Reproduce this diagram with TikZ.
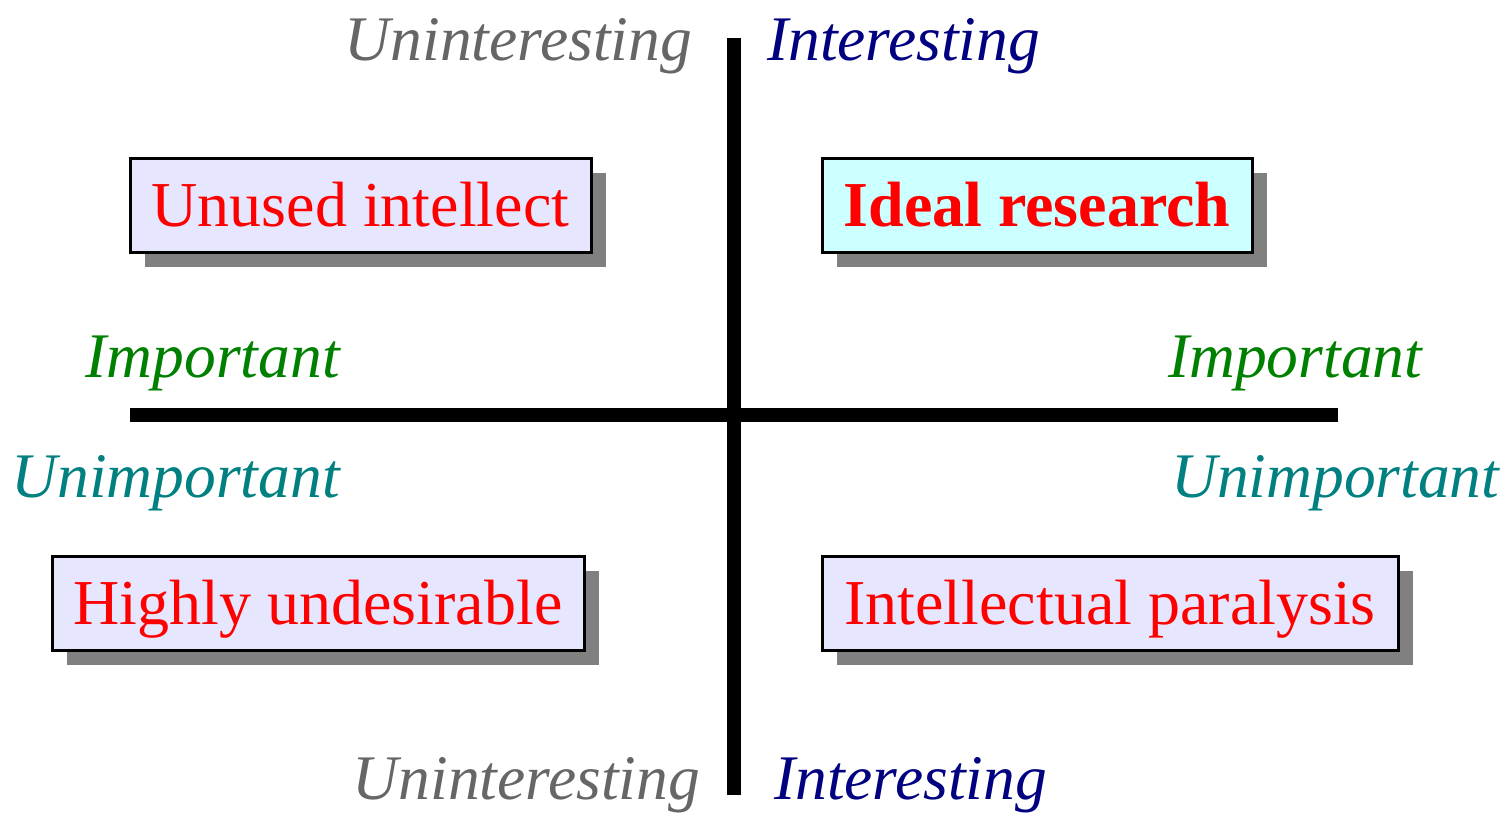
\documentclass[tikz,border=0pt]{standalone}
\usepackage{fontspec}
\setmainfont{Liberation Serif}
\usetikzlibrary{shadows}
\definecolor{labgray}{HTML}{666666}
\definecolor{labnavy}{HTML}{000080}
\definecolor{labgreen}{HTML}{008000}
\definecolor{labteal}{HTML}{008080}
\definecolor{boxlav}{HTML}{E6E6FF}
\definecolor{boxcyan}{HTML}{CCFFFF}
\definecolor{shadowgray}{HTML}{808080}
\tikzset{
  quadbox/.style={draw=black, line width=3pt, fill=boxlav, text=red, inner sep=0pt,
    minimum height=94pt, text height=42pt, text depth=0pt, font=\fontsize{64}{70}\selectfont,
    drop shadow={shadow xshift=15pt, shadow yshift=-15pt, fill=shadowgray, opacity=1}},
  axislabel/.style={inner sep=0pt, font=\fontsize{63.5}{70}\selectfont\itshape},
  axisline/.style={line width=14pt, black}
}
\begin{document}
\begin{tikzpicture}[x=1pt, y=-1pt]
\useasboundingbox (0,0) rectangle (1505,813);
% axes
\coordinate (vtop) at (734,38);
\coordinate (vbot) at (734,795);
\coordinate (hl) at (130,415);
\coordinate (hr) at (1338,415);
\draw[axisline] (vtop) -- (vbot);
\draw[axisline] (hl) -- (hr);
% boxes
\node[quadbox, minimum width=461pt] (unused) at (360.5,205.5) {Unused intellect};
\node[quadbox, minimum width=430pt, fill=boxcyan, font=\fontsize{64}{70}\selectfont\bfseries] (ideal) at (1037,205.5) {Ideal research};
\node[quadbox, minimum width=532pt] (highly) at (318,603) {Highly undesirable};
\node[quadbox, minimum width=576pt] (paralysis) at (1110,603) {Intellectual paralysis};
% labels
\node[axislabel, text=labgray, anchor=base east] (unintT) at (692,61) {Uninteresting};
\node[axislabel, text=labnavy, anchor=base west] (intT) at (767,61) {Interesting};
\node[axislabel, text=labgray, anchor=base east] (unintB) at (700,799) {Uninteresting};
\node[axislabel, text=labnavy, anchor=base west] (intB) at (774,799) {Interesting};
\node[axislabel, text=labgreen, anchor=base east] (impL) at (340,377) {Important};
\node[axislabel, text=labteal, anchor=base east] (unimpL) at (340,497) {Unimportant};
\node[axislabel, text=labgreen, anchor=base west] (impR) at (1168,377) {Important};
\node[axislabel, text=labteal, anchor=base west] (unimpR) at (1171,497) {Unimportant};
\end{tikzpicture}
\end{document}
